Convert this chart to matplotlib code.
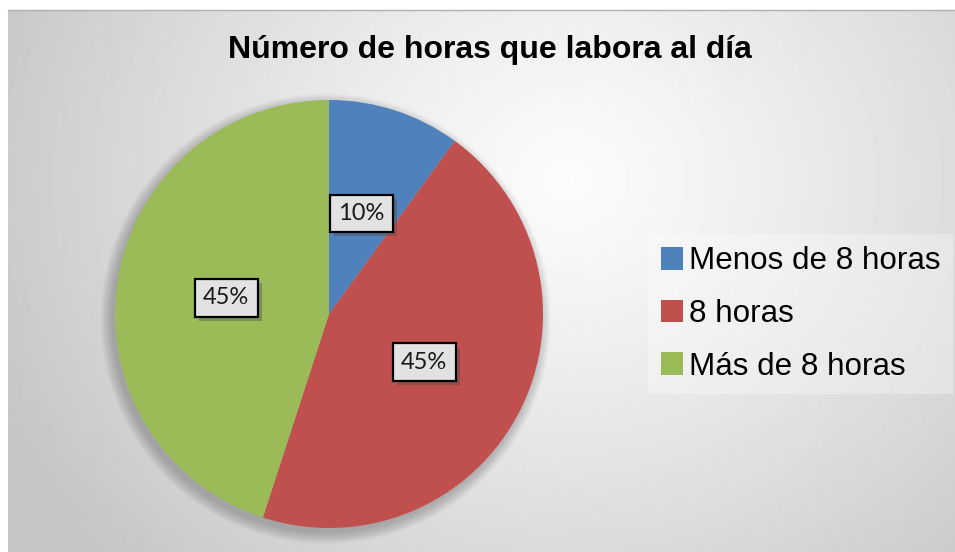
import numpy as np
import matplotlib.pyplot as plt
import matplotlib.patheffects as pe
from matplotlib.patches import Circle, Patch

# data
categories = ['Menos de 8 horas', '8 horas', 'Más de 8 horas']
values = [10, 45, 45]
colors = ['#4F81BD', '#C0504D', '#9BBB59']
# label positions inside the pie (fraction of radius), as Excel placed them
label_pos = [(0.15, 0.47), (0.445, -0.225), (-0.48, 0.075)]

W, H = 955, 552
fig = plt.figure(figsize=(W / 100, H / 100), dpi=100, facecolor='white')

# background with radial gradient
bg = fig.add_axes([8 / W, 0, (W - 8) / W, (H - 10) / H])
bg.set_axis_off()
yy, xx = np.mgrid[0:542, 0:947]
d = np.sqrt(((xx - 560) / 620.0) ** 2 + ((yy - 170) / 560.0) ** 2)
d = np.clip(d, 0, 1)
shade = 0.985 - 0.21 * d ** 1.2
bg.imshow(shade, cmap='gray', vmin=0, vmax=1, aspect='auto',
          extent=[0, 1, 0, 1], origin='upper', interpolation='bilinear')
bg.set_xlim(0, 1)
bg.set_ylim(0, 1)
fig.add_artist(plt.Line2D([8 / W, 1], [1 - 10 / H, 1 - 10 / H],
                          color='#b0b0b0', lw=1))

# pie
cx, cy, r = 329, 314, 214
ax = fig.add_axes([(cx - r) / W, (H - cy - r) / H, 2 * r / W, 2 * r / H])
ax.set_axis_off()

# soft shadow, offset a bit down-left
for k in range(14):
    ax.add_patch(Circle((-0.015, -0.022), 1.0 + k * 0.004, color='black',
                        alpha=0.016, lw=0, zorder=0, clip_on=False))

wedges, _ = ax.pie(values, colors=colors, startangle=90, counterclock=False,
                   radius=1, wedgeprops=dict(linewidth=0))
for w in wedges:
    w.set_zorder(2)
ax.set_xlim(-1, 1)
ax.set_ylim(-1, 1)

for v, (px, py) in zip(values, label_pos):
    t = ax.text(px, py, f'{v}%', ha='center', va='center', fontsize=17,
                family='Lato', color='#1a1a1a', zorder=5,
                bbox=dict(boxstyle='square,pad=0.35', facecolor='#e2e2e2',
                          edgecolor='black', linewidth=1.6))
    t.get_bbox_patch().set_path_effects(
        [pe.SimplePatchShadow(offset=(3, -3), alpha=0.35), pe.Normal()])

# title
fig.text(490 / W, 1 - 50 / H, 'Número de horas que labora al día',
         ha='center', va='center', fontsize=23, fontweight='bold',
         family='Liberation Sans')

# legend
handles = [Patch(facecolor=c, edgecolor='none') for c in colors]
leg = fig.legend(handles, categories, loc='center left',
                 bbox_to_anchor=(648 / W, 1 - 314 / H),
                 frameon=True, fancybox=False, framealpha=0.3,
                 facecolor='white', edgecolor='none',
                 prop=dict(family='Liberation Sans', size=22.6),
                 handlelength=0.72, handleheight=0.72, handletextpad=0.2,
                 labelspacing=0.72, borderpad=0.4, borderaxespad=0)

plt.savefig('out.png', dpi=100)
